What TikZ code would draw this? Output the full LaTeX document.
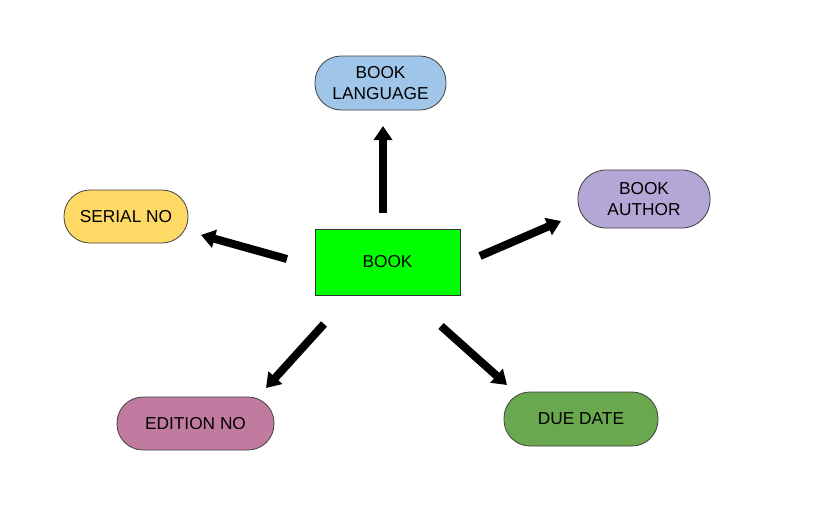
\documentclass[tikz,border=0pt]{standalone}
\usepackage{fontspec}
\setmainfont{Liberation Sans}
\usetikzlibrary{arrows.meta}
\definecolor{cblue}{HTML}{9FC5E8}
\definecolor{cpurple}{HTML}{B4A7D6}
\definecolor{cyellow}{HTML}{FFD966}
\definecolor{cpink}{HTML}{C27BA0}
\definecolor{cgreen}{HTML}{6AA84F}
\definecolor{cbright}{HTML}{00FF00}
\begin{document}
\begin{tikzpicture}[x=1pt,y=-1pt,
  pill/.style={draw=black!75, line width=0.8pt, rounded corners=26pt, minimum height=54pt, align=center, font=\fontsize{17.3}{21}\selectfont, inner sep=0pt},
  boxnode/.style={draw=black!80, line width=0.8pt, fill=cbright, minimum width=145pt, minimum height=66pt, font=\fontsize{17.3}{21}\selectfont, inner sep=0pt},
  bigarrow/.style={line width=8pt, -{Triangle[width=18pt,length=14pt]}}
]
\useasboundingbox (0,0) rectangle (817,515);
\node[boxnode] (book) at (387.5,262) {BOOK};
\node[pill, fill=cblue, minimum width=131pt] (lang) at (380.5,83) {BOOK\\LANGUAGE};
\node[pill, fill=cpurple, minimum width=132pt, minimum height=58pt, rounded corners=28pt] (auth) at (644,199) {BOOK\\AUTHOR};
\node[pill, fill=cyellow, minimum width=124pt, minimum height=53pt] (serial) at (126,216.5) {SERIAL NO};
\node[pill, fill=cpink, minimum width=157pt, minimum height=53pt] (edition) at (195.5,423.5) {EDITION NO};
\node[pill, fill=cgreen, minimum width=154pt] (due) at (581,419) {DUE DATE};

\coordinate (upS) at (383,213);
\coordinate (upT) at (383,126);
\coordinate (rS) at (480,256);
\coordinate (rT) at (561,221);
\coordinate (lS) at (287,259);
\coordinate (lT) at (201,235);
\coordinate (dlS) at (324,324);
\coordinate (dlT) at (266,388);
\coordinate (drS) at (441,326);
\coordinate (drT) at (507,385);

\draw[bigarrow] (upS) -- (upT);
\draw[bigarrow] (rS) -- (rT);
\draw[bigarrow] (lS) -- (lT);
\draw[bigarrow] (dlS) -- (dlT);
\draw[bigarrow] (drS) -- (drT);
\end{tikzpicture}
\end{document}
